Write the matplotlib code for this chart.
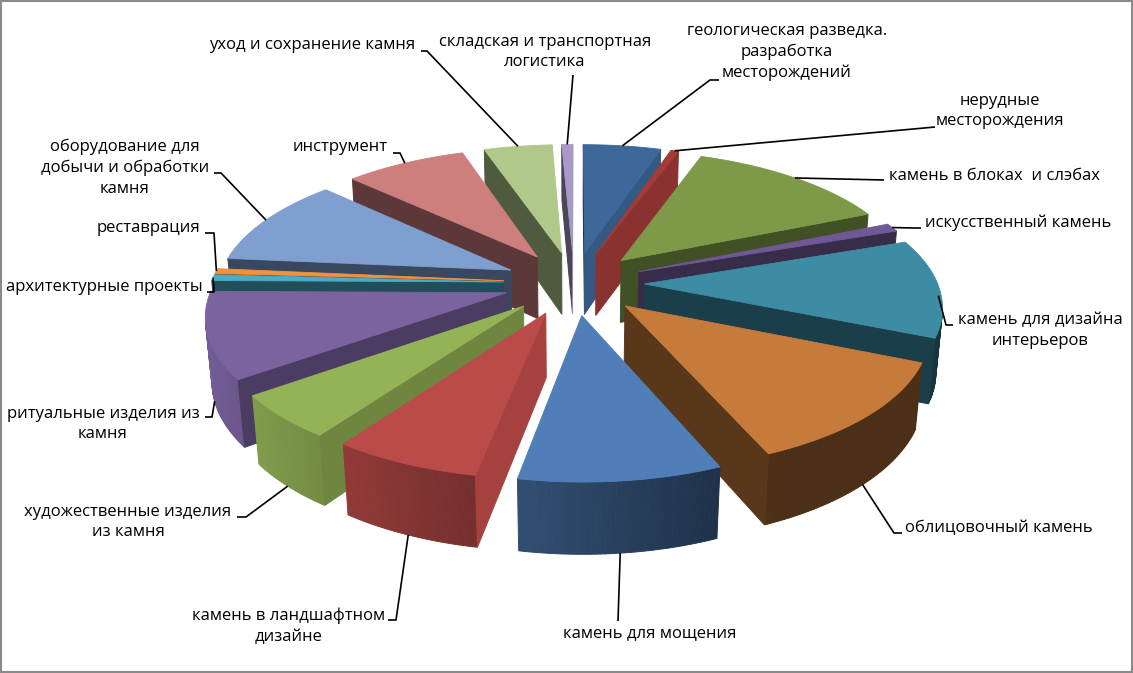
import numpy as np
import matplotlib
matplotlib.use("Agg")
import matplotlib.pyplot as plt
from matplotlib.patches import Polygon, Rectangle
from matplotlib.colors import to_rgb

# ---------------- data ----------------
categories = [
    "геологическая разведка.\nразработка\nместорождений",
    "нерудные\nместорождения",
    "камень в блоках  и слэбах",
    "искусственный камень",
    "камень для дизайна\nинтерьеров",
    "облицовочный камень",
    "камень для мощения",
    "камень в ландшафтном\nдизайне",
    "художественные изделия\nиз камня",
    "ритуальные изделия из\nкамня",
    "архитектурные проекты",
    "реставрация",
    "оборудование для\nдобычи и обработки\nкамня",
    "инструмент",
    "уход и сохранение камня",
    "складская и транспортная\nлогистика",
]
values = [5.0, 0.5, 13.1, 1.0, 11.7, 12.3, 9.3, 6.8, 5.2, 10.2, 0.7, 0.6, 10.6, 7.8, 4.4, 0.7]
colors = ["#3D6899", "#A33B37", "#7E9A48", "#6F5894", "#3D8CA4", "#C67B3A",
          "#4F7EB8", "#BA4B48", "#94B356", "#7B63A0", "#4BACC6", "#F0923F",
          "#7F9FD0", "#CC7F7D", "#B0C889", "#A799C8"]

# ---------------- layout (label text positions and leader hooks) ----------------
label_xy = [(787, 52, "center"), (1000, 111, "center"), (889, 176, "left"),
            (925, 223, "left"), (1040, 331, "center"), (905, 528, "left"),
            (650, 633, "center"), (289, 626, "center"), (128, 522, "center"),
            (103, 424, "center"), (104, 287, "center"), (149, 228, "center"),
            (125, 168, "center"), (340, 147, "center"), (312, 45, "center"),
            (545, 52, "center")]
hooks = [(719, 80, 710), (935, 127, 935), (884, 180, 884), (921, 228, 914),
         (953, 325, 946), (902, 533, 894), (618, 621, 618), (388, 620, 396),
         (237, 517, 246), (205, 417, 212), (207, 292, 214), (205, 233, 214),
         (214, 173, 221), (393, 153, 400), (421, 51, 427), (573, 75, 573)]

plt.rcParams['font.family'] = ['Open Sans', 'DejaVu Sans']

W, H = 1133, 673
fig = plt.figure(figsize=(W / 100, H / 100), dpi=100)
ax = fig.add_axes([0, 0, 1, 1])
ax.set_xlim(0, W)
ax.set_ylim(H, 0)
ax.axis('off')

# perspective camera
CX, CY = 574.0, 283.0
F = 1805.0
L = 6.16
CA, SA = 0.893, 0.45
THK = 0.245
EXPL = 0.24
CAM = np.array([0.0, -L * CA, L * SA])


def proj(X, Y, z):
    X = np.atleast_1d(np.asarray(X, float))
    Y = np.atleast_1d(np.asarray(Y, float))
    Zu = -THK * z
    den = L + CA * Y - SA * Zu
    sx = CX + F * X / den
    sy = CY - F * (SA * Y + CA * Zu) / den
    return np.column_stack([sx, sy])


def shade(c, f):
    return tuple(np.clip(np.array(to_rgb(c)) * f, 0, 1))


def visible(nx, ny, px, py):
    return nx * (CAM[0] - px) + ny * (CAM[1] - py) > 0


vals = np.array(values, float)
frac = vals / vals.sum()
cum = np.concatenate([[0], np.cumsum(frac)])
t_start = np.deg2rad(90 - 360 * cum[:-1])
t_end = np.deg2rad(90 - 360 * cum[1:])
t_mid = (t_start + t_end) / 2
offs = EXPL * np.column_stack([np.cos(t_mid), np.sin(t_mid)])

cent = offs + 0.6 * np.column_stack([np.cos(t_mid), np.sin(t_mid)])
dist = cent[:, 0] ** 2 + (cent[:, 1] - CAM[1]) ** 2
order = np.argsort(-dist)

for i in order:
    tmax, tmin = t_start[i], t_end[i]
    ox, oy = offs[i]
    n = max(3, int(np.rad2deg(tmax - tmin) / 0.8) + 2)
    t = np.linspace(tmax, tmin, n)
    rx, ry = ox + np.cos(t), oy + np.sin(t)
    top = proj(rx, ry, 0)
    bot = proj(rx, ry, 1)
    c = colors[i]
    # outer wall
    for k in range(n - 1):
        tm = (t[k] + t[k + 1]) / 2
        px, py = ox + np.cos(tm), oy + np.sin(tm)
        if visible(np.cos(tm), np.sin(tm), px, py):
            f = float(np.clip(0.55 - 0.4 * np.cos(tm), 0.38, 0.95))
            col = shade(c, f)
            quad = np.vstack([top[k], top[k + 1], bot[k + 1], bot[k]])
            ax.add_patch(Polygon(quad, closed=True, fc=col, ec=col, lw=0.7))
    # radial faces
    for te, sgn in ((tmax, 1), (tmin, -1)):
        na = te + sgn * np.pi / 2
        nx, ny = np.cos(na), np.sin(na)
        ex, ey = ox + np.cos(te), oy + np.sin(te)
        if visible(nx, ny, (ox + ex) / 2, (oy + ey) / 2):
            f = 0.45 + 0.45 * max(0.0, nx) ** 2
            col = shade(c, f)
            pt = proj([ox, ex], [oy, ey], 0)
            pb = proj([ox, ex], [oy, ey], 1)
            quad = np.vstack([pt[0], pt[1], pb[1], pb[0]])
            ax.add_patch(Polygon(quad, closed=True, fc=col, ec=col, lw=0.7))
    # top face
    poly = np.vstack([proj(ox, oy, 0), top])
    ax.add_patch(Polygon(poly, closed=True, fc=c, ec=c, lw=0.6))

# labels and leader lines
for i, name in enumerate(categories):
    tm = t_mid[i]
    z = float(np.clip(-np.sin(tm) * 4, 0, 1))
    ox, oy = offs[i]
    anc = proj(ox + np.cos(tm), oy + np.sin(tm), z)[0]
    hx, hy, sx = hooks[i]
    ax.plot([hx, sx, anc[0]], [hy, hy, anc[1]], color='black', lw=1.2,
            solid_capstyle='butt', zorder=5)
    x, y, ha = label_xy[i]
    ax.text(x, y, name, ha=ha, va='center', multialignment='center',
            fontsize=12.0, linespacing=1.4, color='#000000', zorder=6)

ax.add_patch(Rectangle((0.75, 0.75), W - 1.5, H - 1.5, fill=False,
                       ec='#8a8a8a', lw=1.5, zorder=10))

fig.savefig("out.png", dpi=100)
